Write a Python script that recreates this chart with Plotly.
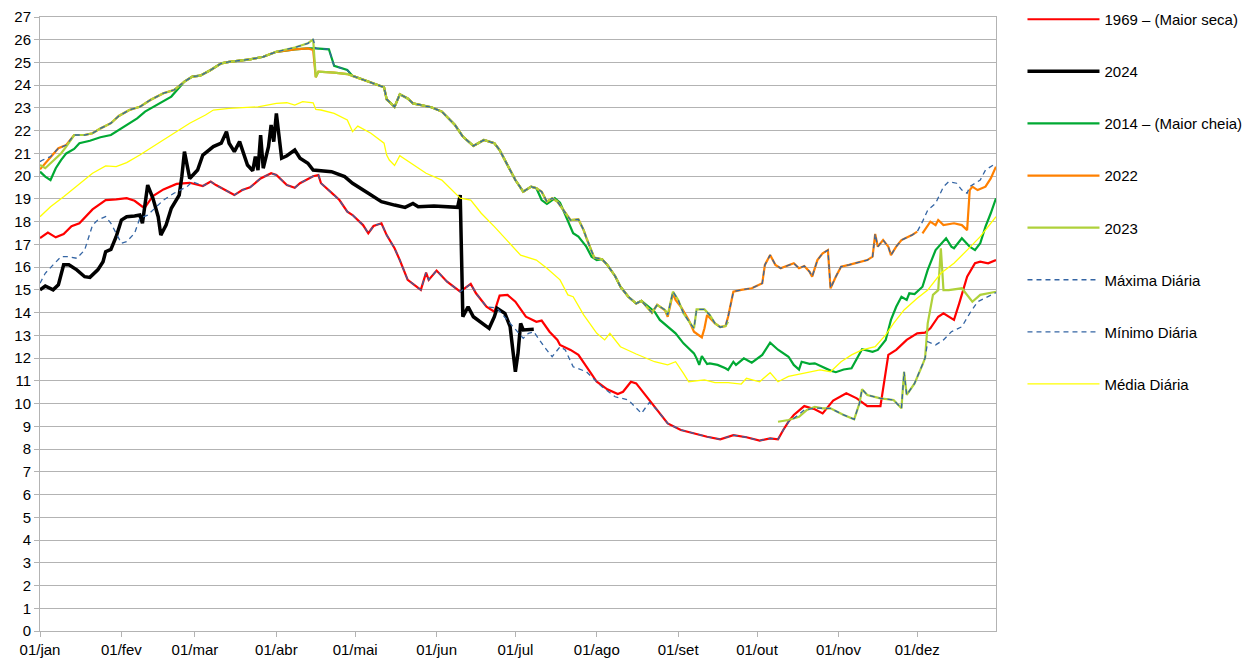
import plotly.graph_objects as go

# ---- axis categories ----
month_start_day = [1, 32, 60, 91, 121, 152, 182, 213, 244, 274, 305, 335]
month_labels = ["01/jan", "01/fev", "01/mar", "01/abr", "01/mai", "01/jun",
                "01/jul", "01/ago", "01/set", "01/out", "01/nov", "01/dez"]
y_ticks = list(range(0, 28))

# ---- 1969 (Maior seca) ----
seca1969_day = [1,4,7,10,13,16,21,26,30,34,37,40,41,44,48,53,58,63,66,68,75,78,81,85,89,91,95,98,100,105,
                107,108,113,115,118,120,124,126,128,131,133,136,138,141,146,148,149,152,156,161,165,167,171,174,176,179,182,186,190,192,
                195,198,199,203,206,209,213,217,221,223,226,228,232,236,240,245,250,255,260,265,270,275,279,282,284,286,288,292,296,299,
                303,308,312,316,321,322,324,327,331,335,338,340,343,345,347,349,351,354,357,359,362,365]
seca1969_val = [17.28,17.52,17.31,17.46,17.8,17.93,18.54,18.95,18.98,19.03,18.92,18.66,18.63,19.13,19.42,19.66,19.71,19.57,19.76,19.61,
                19.17,19.39,19.51,19.9,20.13,20.05,19.61,19.49,19.69,20.0,20.05,19.69,19.17,18.95,18.44,18.29,17.85,17.49,17.81,17.93,
                17.41,16.83,16.31,15.44,15.0,15.76,15.44,15.85,15.36,14.92,15.26,14.85,14.26,14.04,14.75,14.78,14.48,13.82,13.6,13.65,
                13.16,12.8,12.58,12.36,12.14,11.62,10.96,10.63,10.42,10.52,10.96,10.89,10.3,9.72,9.13,8.84,8.69,8.54,8.43,8.61,
                8.52,8.37,8.47,8.43,8.84,9.21,9.5,9.89,9.75,9.57,10.13,10.45,10.23,9.89,9.89,10.6,12.14,12.36,12.8,13.09,
                13.12,13.31,13.82,13.97,13.82,13.68,14.41,15.58,16.17,16.24,16.17,16.31]

# ---- 2024 ----
ano2024_day = [1,3,6,8,10,12,15,18,20,23,25,26,28,30,32,34,37,39,40,42,44,46,47,49,51,54,55,56,58,61,
               63,67,70,72,73,75,77,80,82,83,84,85,86,88,89,90,91,93,95,98,100,103,105,112,117,120,126,131,136,140,
               143,145,151,156,160,161,162,164,166,172,174,175,178,180,181,182,183,184,185,189]
ano2024_val = [15.0,15.17,15.0,15.22,16.1,16.1,15.88,15.58,15.55,15.88,16.24,16.68,16.78,17.34,18.07,18.22,18.25,18.29,17.93,19.61,
               19.03,18.22,17.41,17.85,18.59,19.17,19.98,21.08,19.9,20.27,20.93,21.3,21.45,21.96,21.45,21.08,21.52,20.49,20.24,20.86,
               20.27,21.81,20.35,21.3,22.25,21.52,22.76,20.79,20.9,21.15,20.79,20.57,20.27,20.2,19.98,19.69,19.25,18.88,18.73,18.63,
               18.8,18.66,18.69,18.66,18.63,19.17,13.82,14.26,13.82,13.31,13.82,14.19,13.97,13.38,12.5,11.4,12.21,13.53,13.24,13.27]

# ---- 2014 (Maior cheia) ----
cheia2014_day = [1,3,5,7,9,11,14,16,20,24,28,31,34,38,41,51,56,59,62,66,70,73,81,86,91,98,103,106,111,113,
                 118,120,126,132,133,136,138,141,143,150,154,159,162,166,170,174,176,179,182,185,188,190,192,194,197,199,202,204,206,209,
                 211,213,215,217,220,222,225,228,230,235,237,240,243,246,250,251,252,253,255,256,259,262,263,265,266,269,270,272,276,279,
                 282,286,288,290,291,294,296,299,302,304,307,310,312,314,318,320,323,325,327,329,331,332,334,337,339,342,346,348,349,352,
                 355,357,359,361,363,365]
cheia2014_val = [20.2,19.98,19.83,20.35,20.71,21.0,21.2,21.45,21.56,21.71,21.81,22.03,22.25,22.54,22.84,23.5,24.16,24.38,24.42,24.67,
                 24.96,25.03,25.14,25.25,25.47,25.58,25.62,25.62,25.58,24.85,24.67,24.41,24.16,23.91,23.38,23.05,23.6,23.42,23.2,23.03,
                 22.84,22.25,21.74,21.33,21.59,21.45,21.15,20.49,19.83,19.32,19.54,19.47,18.95,18.78,19.03,18.84,18.07,17.49,17.34,16.9,
                 16.46,16.31,16.35,16.1,15.6,15.14,14.7,14.4,14.52,14.04,13.68,13.38,13.09,12.65,12.21,11.99,11.7,12.09,11.74,11.77,
                 11.7,11.55,11.48,11.84,11.7,11.99,11.92,11.8,12.14,12.68,12.37,12.06,11.7,11.5,11.84,11.75,11.77,11.6,11.45,11.38,
                 11.5,11.55,11.99,12.39,12.28,12.36,12.8,13.68,14.26,14.7,14.56,14.85,14.82,15.14,15.88,16.75,17.27,16.9,16.83,17.27,
                 16.9,16.75,17.05,17.78,18.37,19.03]

# ---- 2022 ----
ano2022_day = [1,5,8,11,14,18,21,24,28,31,35,39,43,48,52,56,59,62,66,70,73,81,86,91,98,103,105,106,107,113,
               118,120,126,132,133,136,138,141,143,150,154,159,162,166,170,174,176,179,182,185,188,190,192,194,196,198,202,203,206,208,
               209,212,215,217,220,222,225,228,230,234,236,239,240,242,243,245,248,250,253,254,255,258,260,262,263,265,268,272,276,277,
               279,281,283,288,290,292,294,295,297,299,301,302,304,306,309,314,316,318,319,320,322,324,325,327,329,333,335,336,337,340,
               342,343,345,349,352,354,355,356,358,361,363,365]
ano2022_val = [20.3,20.86,21.23,21.37,21.81,21.81,21.89,22.1,22.33,22.65,22.91,23.05,23.35,23.65,23.79,24.16,24.38,24.42,24.67,24.96,
               25.03,25.14,25.25,25.47,25.58,25.62,25.55,24.35,24.6,24.55,24.49,24.41,24.16,23.91,23.38,23.05,23.6,23.42,23.2,23.03,
               22.84,22.25,21.74,21.33,21.59,21.45,21.15,20.49,19.83,19.32,19.54,19.47,19.32,18.88,19.03,18.88,18.22,18.07,18.1,17.63,
               17.3,16.42,16.35,16.1,15.6,15.14,14.7,14.4,14.52,14.0,14.34,14.1,13.82,14.85,14.56,14.26,13.68,13.16,12.91,13.31,
               13.9,13.53,13.36,13.41,13.82,14.92,15.0,15.07,15.29,16.1,16.53,16.1,15.95,16.17,15.95,16.05,15.8,15.58,16.31,16.61,
               16.75,15.07,15.58,16.02,16.1,16.24,16.31,16.46,17.46,16.9,17.19,16.9,16.53,16.9,17.19,17.41,17.56,None,17.49,18.0,
               17.85,18.07,17.85,17.93,17.85,17.63,19.39,19.54,19.39,19.54,19.9,20.42]

# ---- 2023 ----
ano2023_day = [1,3,5,9,11,14,18,21,24,28,31,35,39,43,48,52,56,59,62,66,70,73,81,86,91,98,103,105,106,107,
               113,118,120,126,132,133,136,138,141,143,150,154,159,162,166,170,174,176,179,182,185,188,190,192,194,196,198,202,203,206,
               208,209,212,215,217,220,222,225,228,230,234,236,239,240,242,244,246,249,250,251,254,256,258,260,262,263,270,
               282,286,290,293,296,299,302,307,311,313,314,316,321,326,329,330,331,334,337,338,
               339,341,343,344,345,347,352,356,359,365]
ano2023_val = [20.49,20.35,20.57,21.0,21.3,21.81,21.81,21.89,22.1,22.33,22.65,22.91,23.05,23.35,23.65,23.79,24.16,24.38,24.42,24.67,
               24.96,25.03,25.14,25.25,25.47,25.66,25.84,26.02,24.35,24.6,24.55,24.49,24.41,24.16,23.91,23.38,23.05,23.6,23.42,23.2,
               23.03,22.84,22.25,21.74,21.33,21.59,21.45,21.15,20.49,19.83,19.32,19.54,19.47,19.32,18.88,19.03,18.88,18.22,18.07,18.1,
               17.63,17.3,16.42,16.35,16.1,15.6,15.14,14.7,14.4,14.52,14.0,14.34,14.12,13.9,14.92,14.56,13.97,13.46,13.31,14.14,
               14.14,13.9,13.53,13.36,13.41,13.6,None,
               9.2,9.28,9.42,9.72,9.86,9.79,9.79,9.5,9.31,10.01,10.63,10.38,10.23,10.16,9.79,11.4,10.38,10.89,11.7,12.0,
               13.53,14.78,14.99,16.83,14.99,14.99,15.07,14.48,14.78,14.92]

# ---- Máxima Diária ----
maxima_day = [1,2,5,8,11,14,18,21,24,28,31,35,39,43,48,52,56,59,62,66,70,73,81,86,91,98,103,105,106,111,
              113,118,120,126,132,133,136,138,141,143,150,154,159,162,166,170,174,176,179,182,185,188,190,192,194,196,198,202,203,206,
              208,209,212,215,217,220,222,225,228,230,234,236,239,240,242,244,246,249,250,251,254,256,258,260,262,263,265,268,272,276,
              277,279,281,283,288,290,292,294,295,297,299,301,302,304,306,309,314,316,318,319,320,322,324,325,327,329,333,335,337,339,
              342,345,347,350,352,354,355,359,361,364,365]
maxima_val = [20.64,20.71,20.86,21.23,21.37,21.81,21.81,21.89,22.1,22.33,22.65,22.91,23.05,23.35,23.65,23.79,24.16,24.38,24.42,24.67,
              24.96,25.03,25.14,25.25,25.47,25.66,25.84,26.02,25.62,25.58,24.85,24.67,24.41,24.16,23.91,23.38,23.05,23.6,23.42,23.2,
              23.03,22.84,22.25,21.74,21.33,21.59,21.45,21.15,20.49,19.83,19.32,19.54,19.47,19.32,18.88,19.03,18.88,18.22,18.07,18.1,
              17.63,17.3,16.42,16.35,16.1,15.6,15.14,14.7,14.4,14.52,14.0,14.34,14.12,13.9,14.92,14.56,13.97,13.46,13.31,14.14,
              14.14,13.9,13.53,13.36,13.41,13.82,14.92,15.0,15.07,15.29,16.1,16.53,16.1,15.95,16.17,15.95,16.05,15.8,15.58,16.31,
              16.61,16.75,15.07,15.58,16.02,16.1,16.24,16.31,16.46,17.46,16.9,17.19,16.9,16.53,16.9,17.19,17.41,17.56,18.0,18.51,
              18.8,19.54,19.76,19.69,19.39,19.25,19.54,19.83,20.27,20.49,20.57]

# ---- Mínimo Diária ----
minimo_day = [1,3,6,9,12,15,18,21,23,26,28,32,34,37,39,42,48,52,57,59,
              63,66,68,75,78,81,85,89,91,95,98,100,105,107,108,113,115,118,120,124,126,128,131,133,136,138,141,146,148,149,152,156,161,165,167,171,
              175,180,185,187,189,193,196,199,201,204,209,215,220,225,227,230,233,
              236,240,245,250,255,260,265,270,275,279,282,284,286,
              288,292,296,299,302,307,311,313,314,316,321,326,329,330,331,334,337,338,
              339,342,345,348,352,355,358,362,365]
minimo_val = [15.29,15.73,16.1,16.46,16.46,16.39,16.75,17.85,18.07,18.22,17.93,17.05,17.12,17.49,18.15,18.29,18.95,19.25,19.54,19.76,
              19.57,19.76,19.61,19.17,19.39,19.51,19.9,20.13,20.05,19.61,19.49,19.69,20.0,20.05,19.69,19.17,18.95,18.44,18.29,17.85,
              17.49,17.81,17.93,17.41,16.83,16.31,15.44,15.0,15.76,15.44,15.85,15.36,14.92,15.26,14.85,14.26,
              14.2,13.53,12.87,13.09,13.16,12.5,12.06,12.5,12.36,11.62,11.4,10.74,10.3,10.16,9.94,9.57,10.05,
              9.72,9.13,8.84,8.69,8.54,8.43,8.61,8.52,8.37,8.47,8.43,8.84,9.2,
              9.35,9.72,9.8,9.79,9.79,9.5,9.31,10.01,10.63,10.38,10.23,10.16,9.79,11.4,10.38,10.89,11.7,12.0,
              12.72,12.58,12.8,13.16,13.38,13.97,14.48,14.7,14.88]

# ---- Média Diária ----
media_day = [1,5,10,14,18,21,26,30,34,39,46,52,58,64,67,73,84,91,95,98,101,105,106,108,113,118,120,122,127,132,
             133,134,136,138,143,148,154,159,161,165,169,174,180,184,190,194,199,202,204,208,213,216,218,222,228,235,240,243,246,248,
             254,258,263,268,270,275,279,282,286,291,298,302,306,310,314,319,323,326,330,335,339,344,349,354,359,365]
media_val = [18.22,18.66,19.1,19.47,19.83,20.13,20.45,20.42,20.6,20.93,21.45,21.89,22.33,22.69,22.91,22.98,23.05,23.2,23.23,23.13,
             23.28,23.23,22.94,22.91,22.76,22.47,21.96,22.2,21.89,21.45,20.93,20.71,20.47,20.9,20.5,20.13,19.83,19.25,19.03,18.95,
             18.37,17.78,17.05,16.53,16.31,15.95,15.44,14.78,14.7,13.9,13.09,12.8,13.09,12.5,12.18,11.84,11.7,11.84,11.33,10.96,
             11.04,10.92,10.92,10.86,11.11,10.96,11.36,10.96,11.2,11.33,11.48,11.4,11.84,12.14,12.36,12.5,13.02,13.53,14.12,14.63,
             14.99,15.73,16.17,16.75,17.34,18.22]

series = [
    ("1969 – (Maior seca)", seca1969_day, seca1969_val, dict(color="#FF0000", width=2.2)),
    ("2024", ano2024_day, ano2024_val, dict(color="#000000", width=3.5)),
    ("2014 – (Maior cheia)", cheia2014_day, cheia2014_val, dict(color="#00A933", width=2.2)),
    ("2022", ano2022_day, ano2022_val, dict(color="#FF8000", width=2.2)),
    ("2023", ano2023_day, ano2023_val, dict(color="#AFD13A", width=2.2)),
    ("Máxima Diária", maxima_day, maxima_val, dict(color="#3465A4", width=1.3, dash="5px,4px")),
    ("Mínimo Diária", minimo_day, minimo_val, dict(color="#3465A4", width=1.3, dash="5px,4px")),
    ("Média Diária", media_day, media_val, dict(color="#FFFF00", width=1.3)),
]

fig = go.Figure()
for i, (name, days, vals, line) in enumerate(series):
    fig.add_trace(go.Scatter(x=days, y=vals, mode="lines", name=name, line=line,
                             legendgroup="g%d" % i, connectgaps=False))

grid = "#B3B3B3"
fig.update_layout(
    width=1247, height=661,
    margin=dict(l=40, r=251, t=17, b=30, autoexpand=False),
    paper_bgcolor="white", plot_bgcolor="white",
    font=dict(family="Liberation Sans, Arial, sans-serif", size=15, color="#000000"),
    showlegend=True,
    legend=dict(x=1.0277, y=1.0228, xanchor="left", yanchor="top", maxheight=640,
                tracegroupgap=29.6, itemwidth=72, bgcolor="rgba(0,0,0,0)",
                font=dict(size=15)),
    xaxis=dict(range=[1, 365], tickmode="array", tickvals=month_start_day, ticktext=month_labels,
               showgrid=False, showline=True, linecolor=grid, linewidth=1, mirror=True, automargin=False,
               ticks="outside", ticklen=5, tickcolor=grid, zeroline=False),
    yaxis=dict(range=[0, 27], tickmode="array", tickvals=y_ticks, automargin=False,
               showgrid=True, gridcolor=grid, gridwidth=1, showline=True, linecolor=grid, linewidth=1,
               mirror=True, ticks="outside", ticklen=5, tickcolor=grid, zeroline=False),
)

fig.write_html("out.html", config={"displayModeBar": False},
               post_script="document.body.style.margin='0px';")
